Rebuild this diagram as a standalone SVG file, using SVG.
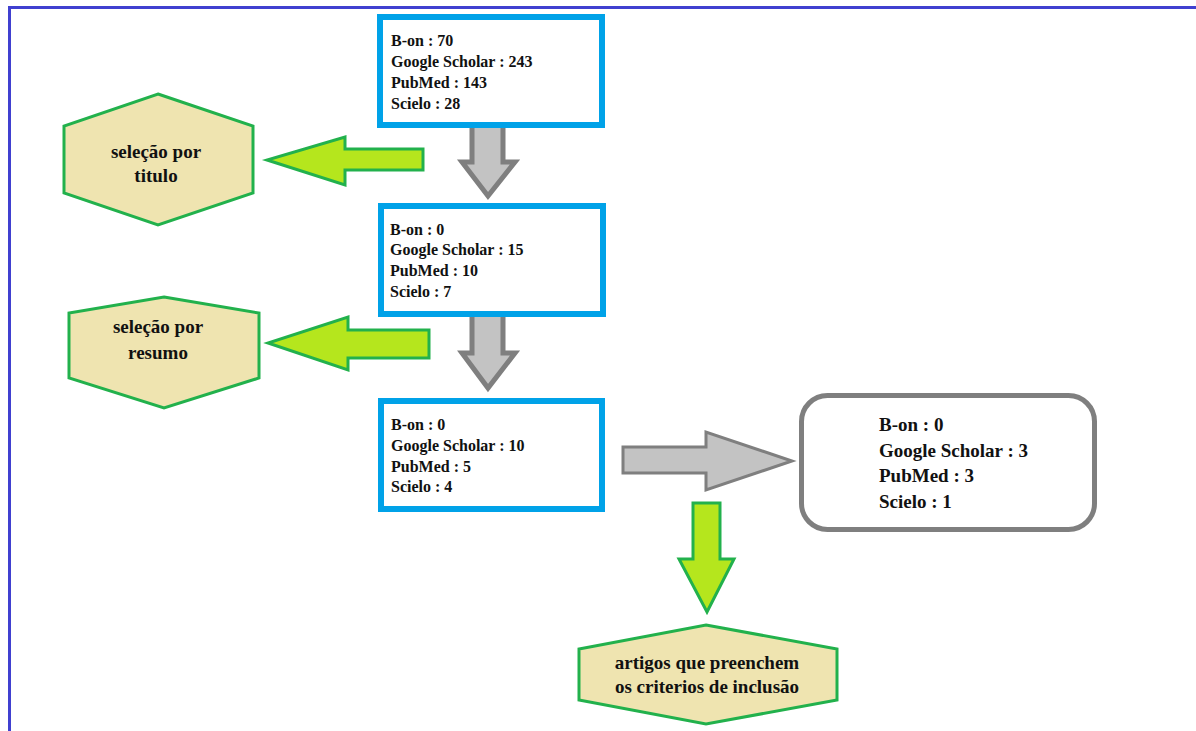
<svg xmlns="http://www.w3.org/2000/svg" width="1196" height="731" viewBox="0 0 1196 731">
<style>
.box{fill:#fff;stroke:#00A2E8;stroke-width:6}
.hex{fill:#EFE4B0;stroke:#22B14C;stroke-width:3}
.garrow{fill:#C3C3C3;stroke:#7F7F7F;stroke-width:5;stroke-linejoin:miter}
.larrow{fill:#B5E61D;stroke:#22B14C;stroke-width:3}
.t{font-family:"Liberation Serif",serif;font-weight:bold;font-size:16px;fill:#111}
.th{font-family:"Liberation Serif",serif;font-weight:bold;font-size:19px;fill:#111;text-anchor:middle}
.tr{font-family:"Liberation Serif",serif;font-weight:bold;font-size:19px;fill:#111}
</style>
<rect width="1196" height="731" fill="#fff"/>
<path d="M9.5,731 V7.5 H1196" fill="none" stroke="#4040D0" stroke-width="3"/>
<g id="connectors">
<path class="garrow" d="M472,127 V162 H462 L488,196 L515,162 H503 V127"/>
<path class="garrow" d="M472,317 V353 H462 L488,388 L515,353 H503 V317"/>
<path class="larrow" d="M423,149 V170 H345 V185 L267,160 L345,137 V149 Z"/>
<path class="larrow" d="M429,330 V358 H348 V370 L268,343 L348,317 V330 Z"/>
<path class="garrow" style="stroke-width:3" d="M623,447 H706 V432 L792,461 L706,490 V473 H623 Z"/>
<path class="larrow" d="M693,503 H720 V559 H734 L707,612 L679,559 H693 Z"/>
</g>
<g id="box1">
<rect class="box" x="380" y="17" width="222" height="108"/>
<text class="t" x="391" y="46">B-on : 70</text>
<text class="t" x="391" y="67">Google Scholar : 243</text>
<text class="t" x="391" y="88">PubMed : 143</text>
<text class="t" x="391" y="109">Scielo : 28</text>
</g>
<g id="box2">
<rect class="box" x="381" y="206" width="222" height="108"/>
<text class="t" x="390" y="235">B-on : 0</text>
<text class="t" x="390" y="255">Google Scholar : 15</text>
<text class="t" x="390" y="276">PubMed : 10</text>
<text class="t" x="390" y="297">Scielo : 7</text>
</g>
<g id="box3">
<rect class="box" x="381" y="401" width="221" height="108"/>
<text class="t" x="391" y="430">B-on : 0</text>
<text class="t" x="391" y="451">Google Scholar : 10</text>
<text class="t" x="391" y="472">PubMed : 5</text>
<text class="t" x="391" y="492">Scielo : 4</text>
</g>
<g id="result">
<rect x="801.5" y="395.5" width="293" height="134" rx="26" fill="#fff" stroke="#7F7F7F" stroke-width="5"/>
<text class="tr" x="879" y="431">B-on : 0</text>
<text class="tr" x="879" y="457">Google Scholar : 3</text>
<text class="tr" x="879" y="482">PubMed : 3</text>
<text class="tr" x="879" y="508">Scielo : 1</text>
</g>
<g id="hex1">
<polygon class="hex" points="158,94 253,126 253,193 158,225 64,193 64,126"/>
<text class="th" x="156" y="158">seleção por</text>
<text class="th" x="156" y="182">titulo</text>
</g>
<g id="hex2">
<polygon class="hex" points="164,297 259,313 259,378 164,408 69,378 69,313"/>
<text class="th" x="158" y="333">seleção por</text>
<text class="th" x="158" y="359">resumo</text>
</g>
<g id="hex3">
<polygon class="hex" points="706,625 837,649 837,700 706,724 579,700 579,649"/>
<text class="th" x="707" y="669">artigos que preenchem</text>
<text class="th" x="707" y="693">os criterios de inclusão</text>
</g>
</svg>
